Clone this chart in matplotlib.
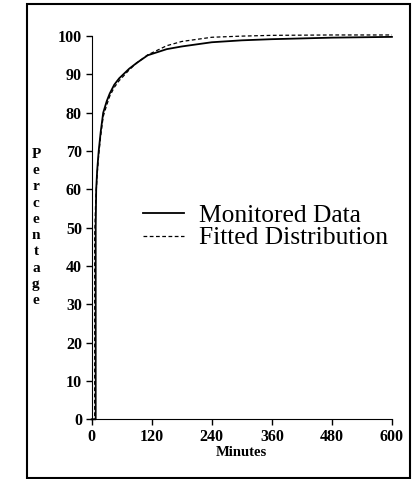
import matplotlib.pyplot as plt
from matplotlib.patches import Rectangle

# Datos
minutes_mon = [0, 8, 8, 9, 11, 14, 18, 23, 30, 36, 45, 55, 63, 75, 90, 112, 150, 180, 240, 300, 360, 480, 600]
monitored = [0, 0, 50, 60, 65, 70, 75, 80, 83, 85, 87.3, 89, 90, 91.5, 93, 95, 96.6, 97.3, 98.4, 98.9, 99.2, 99.6, 99.8]

minutes_fit = [0, 6, 6, 8, 11, 14, 18, 23, 30, 36, 45, 55, 63, 75, 90, 112, 150, 180, 240, 300, 360, 480, 600]
fitted = [0, 0, 48, 57, 64, 69, 74, 79, 82, 84.3, 86.6, 88.4, 89.5, 91.2, 93, 95.1, 97.5, 98.6, 99.7, 100, 100.2, 100.3, 100.3]

x_ticks = [0, 120, 240, 360, 480, 600]
y_ticks = [0, 10, 20, 30, 40, 50, 60, 70, 80, 90, 100]

plt.rcParams["font.family"] = ["Liberation Serif", "DejaVu Serif"]

fig = plt.figure(figsize=(4.13, 4.79), dpi=100)
ax = fig.add_axes([0.222, 0.1246, 0.727, 0.800])

ax.plot(minutes_mon, monitored, color="black", lw=1.3, label="Monitored Data", clip_on=False)
ax.plot(minutes_fit, fitted, color="black", lw=0.9, ls=(0, (3, 2)), label="Fitted Distribution",
        clip_on=False)

ax.set_xlim(0, 600)
ax.set_ylim(0, 100)
ax.set_xticks(x_ticks)
ax.set_yticks(y_ticks)
ax.tick_params(direction="out", length=4, width=1, labelsize=11.5, pad=3)
for lab in ax.get_xticklabels() + ax.get_yticklabels():
    lab.set_fontweight("bold")
for s in ["top", "right"]:
    ax.spines[s].set_visible(False)
ax.set_xlabel("Minutes", fontsize=10.5, fontweight="bold", labelpad=1)

# Etiqueta vertical letra por letra
fig.text(0.087, 0.525, "\n".join("Percentage"), ha="center", va="center",
         fontsize=11, fontweight="bold", linespacing=1.33)

ax.legend(loc="center left", bbox_to_anchor=(0.346, 0.527), bbox_transform=fig.transFigure,
          frameon=False, fontsize=18.4, handlelength=1.6, handletextpad=0.6,
          labelspacing=0.0, borderpad=0, borderaxespad=0)

# Marco exterior
fig.patches.append(Rectangle((0.065, 0.002), 0.928, 0.99, transform=fig.transFigure,
                             fill=False, lw=1.5, color="black"))

fig.savefig("out.png", dpi=100)
